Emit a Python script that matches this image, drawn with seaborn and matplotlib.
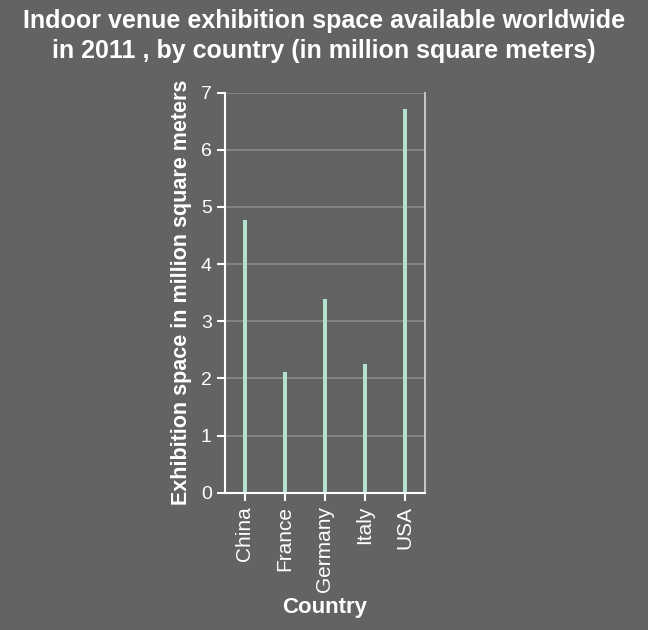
import matplotlib
matplotlib.use("Agg")
import matplotlib.pyplot as plt
import seaborn as sns
import pandas as pd

countries = ["China", "France", "Germany", "Italy", "USA"]
space = [4.77, 2.11, 3.39, 2.25, 6.72]

bg = "#636363"
bar_color = "#b3e2cd"

sns.set_style("darkgrid")
plt.rcParams["font.family"] = ["Liberation Sans", "DejaVu Sans"]

df = pd.DataFrame({"Country": countries, "Space": space})

fig = plt.figure(figsize=(6.48, 6.30), dpi=100, facecolor=bg)
ax = fig.add_axes([0.347, 0.218, 0.309, 0.635])
ax.set_facecolor(bg)

sns.barplot(data=df, x="Country", y="Space", color=bar_color, width=0.1,
            saturation=1, linewidth=0, ax=ax)

ax.set_ylim(0, 7)
ax.set_xlim(-0.5, 4.5)
ax.set_yticks(range(0, 8))
ax.grid(axis="y", color="#8a8a8a", linewidth=1.2)
ax.grid(axis="x", visible=False)
ax.set_axisbelow(True)

for side in ["left", "bottom"]:
    ax.spines[side].set_visible(True)
    ax.spines[side].set_color("white")
    ax.spines[side].set_linewidth(1.5)
ax.spines["right"].set_visible(True)
ax.spines["right"].set_color("#d8d8d8")
ax.spines["right"].set_linewidth(1.2)
ax.spines["top"].set_visible(False)

ax.tick_params(axis="both", colors="white", labelcolor="white", length=6,
               width=1.5, left=True, bottom=True)
ax.tick_params(axis="y", labelsize=14)
ax.tick_params(axis="x", labelsize=15, labelrotation=90)

ax.set_xlabel("Country", color="white", fontsize=16, fontweight="bold",
              labelpad=4)
ax.set_ylabel("Exhibition space in million square meters", color="white",
              fontsize=15.5, fontweight="bold", labelpad=6)

fig.suptitle("Indoor venue exhibition space available worldwide\n"
             "in 2011 , by country (in million square meters)",
             color="white", fontsize=18, fontweight="bold", y=0.985,
             linespacing=1.3)

fig.savefig("out.png", dpi=100, facecolor=bg)
